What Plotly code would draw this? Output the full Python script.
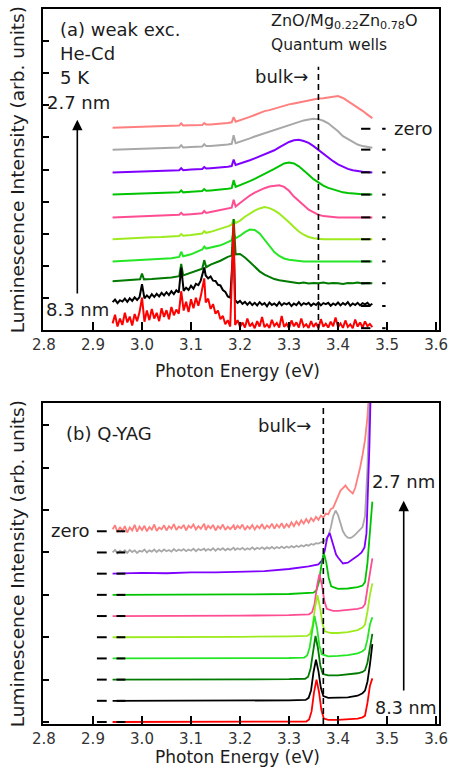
import plotly.graph_objects as go

# ---------------- sampling grids (photon energy, eV) ----------------
GRID_A = [2.94, 2.96, 2.98, 2.996, 3.00, 3.004, 3.02, 3.04, 3.06, 3.076,
          3.08, 3.084, 3.10, 3.123, 3.127, 3.131, 3.14, 3.16, 3.175, 3.183,
          3.187, 3.191, 3.20, 3.21, 3.22, 3.23, 3.24, 3.25, 3.26, 3.27,
          3.28, 3.29, 3.30, 3.31, 3.32, 3.33, 3.34, 3.35, 3.36, 3.37,
          3.38, 3.39, 3.40, 3.41, 3.42, 3.43, 3.44, 3.45, 3.46, 3.47]

NOISY_X = [2.940, 2.945, 2.950, 2.955, 2.960, 2.965, 2.970, 2.975, 2.980, 2.985,
           2.990, 2.995, 3.000, 3.005, 3.010, 3.015, 3.020, 3.025, 3.030, 3.035,
           3.040, 3.045, 3.050, 3.055, 3.060, 3.065, 3.070, 3.075, 3.080, 3.085,
           3.090, 3.095, 3.100, 3.105, 3.110, 3.115, 3.120, 3.127, 3.130, 3.135,
           3.140, 3.145, 3.150, 3.155, 3.160, 3.165, 3.170, 3.175, 3.180, 3.187,
           3.190, 3.195, 3.200, 3.205, 3.210, 3.215, 3.220, 3.225, 3.230, 3.235,
           3.240, 3.245, 3.250, 3.255, 3.260, 3.265, 3.270, 3.275, 3.280, 3.285,
           3.290, 3.295, 3.300, 3.305, 3.310, 3.315, 3.320, 3.325, 3.330, 3.335,
           3.340, 3.345, 3.350, 3.355, 3.360, 3.365, 3.370, 3.375, 3.380, 3.385,
           3.390, 3.395, 3.400, 3.405, 3.410, 3.415, 3.420, 3.425, 3.430, 3.435,
           3.440, 3.445, 3.450, 3.455, 3.460, 3.465, 3.470]

# zero level of each stacked spectrum, from the 2.7 nm well (top) to 8.3 nm (bottom)
ZERO_A = [6.27, 5.62, 4.91, 4.22, 3.51, 2.83, 2.14, 1.46, 0.75, 0.06]
ZERO_B = [4.5, 4.0, 3.5, 3.0, 2.5, 2.0, 1.5, 1.0, 0.5, 0.0]

COLORS = ["#FF7F7F", "#A8A8A8", "#7F00FF", "#00C400", "#FF4D94",
          "#9DEB1E", "#25E625", "#007A00", "#000000", "#FF0000"]

# ---------------- (a) weak excitation, He-Cd ----------------
SALMON_A = [0.03, 0.04, 0.05, 0.06, 0.06, 0.06, 0.07, 0.08, 0.09, 0.10,
            0.17, 0.10, 0.11, 0.12, 0.18, 0.13, 0.13, 0.15, 0.18, 0.20,
            0.36, 0.22, 0.26, 0.31, 0.37, 0.43, 0.49, 0.55, 0.58, 0.63,
            0.67, 0.71, 0.76, 0.79, 0.82, 0.86, 0.89, 0.92, 0.94, 0.95,
            0.97, 1.00, 1.02, 0.96, 0.86, 0.77, 0.68, 0.56, 0.44, 0.33]
GRAY_A = [0.00, 0.01, 0.02, 0.03, 0.03, 0.03, 0.04, 0.05, 0.06, 0.07,
          0.14, 0.07, 0.08, 0.10, 0.17, 0.11, 0.11, 0.13, 0.16, 0.18,
          0.45, 0.20, 0.24, 0.30, 0.35, 0.41, 0.46, 0.50, 0.55, 0.60,
          0.65, 0.71, 0.77, 0.82, 0.87, 0.91, 0.94, 0.96, 0.95, 0.90,
          0.82, 0.70, 0.57, 0.42, 0.33, 0.24, 0.16, 0.11, 0.08, 0.06]
PURPLE_A = [0.00, 0.01, 0.02, 0.03, 0.03, 0.03, 0.04, 0.05, 0.06, 0.07,
            0.13, 0.07, 0.09, 0.11, 0.17, 0.12, 0.13, 0.15, 0.18, 0.20,
            0.40, 0.23, 0.27, 0.32, 0.38, 0.44, 0.50, 0.56, 0.62, 0.69,
            0.78, 0.87, 0.95, 1.00, 1.02, 0.98, 0.92, 0.82, 0.70, 0.58,
            0.46, 0.35, 0.25, 0.17, 0.11, 0.07, 0.04, 0.02, 0.01, 0.00]
GREEN_A = [0.00, 0.01, 0.02, 0.03, 0.03, 0.03, 0.04, 0.05, 0.06, 0.07,
           0.13, 0.07, 0.09, 0.11, 0.17, 0.12, 0.13, 0.15, 0.18, 0.20,
           0.45, 0.24, 0.29, 0.35, 0.42, 0.49, 0.56, 0.64, 0.72, 0.80,
           0.89, 0.97, 1.00, 0.97, 0.88, 0.76, 0.62, 0.48, 0.37, 0.28,
           0.21, 0.16, 0.11, 0.07, 0.05, 0.03, 0.02, 0.01, 0.01, 0.00]
PINK_A = [0.00, 0.01, 0.02, 0.03, 0.03, 0.03, 0.04, 0.05, 0.07, 0.08,
          0.14, 0.08, 0.10, 0.13, 0.20, 0.14, 0.17, 0.22, 0.27, 0.30,
          0.55, 0.34, 0.45, 0.57, 0.68, 0.77, 0.85, 0.91, 0.96, 0.99,
          1.00, 0.95, 0.83, 0.65, 0.50, 0.38, 0.24, 0.15, 0.08, 0.04,
          0.02, 0.01, 0.00, 0.00, 0.00, 0.00, 0.00, 0.00, 0.00, 0.00]
LIME_A = [0.00, 0.02, 0.03, 0.04, 0.05, 0.05, 0.06, 0.07, 0.09, 0.10,
          0.16, 0.11, 0.13, 0.18, 0.25, 0.20, 0.23, 0.32, 0.40, 0.45,
          0.62, 0.50, 0.58, 0.70, 0.80, 0.89, 0.96, 1.00, 0.97, 0.90,
          0.80, 0.68, 0.53, 0.38, 0.24, 0.14, 0.07, 0.03, 0.01, 0.00,
          0.00, 0.00, 0.00, 0.00, 0.00, 0.00, 0.00, 0.00, 0.00, 0.00]
BGREEN_A = [0.00, 0.02, 0.04, 0.05, 0.05, 0.05, 0.07, 0.08, 0.10, 0.14,
            0.30, 0.16, 0.22, 0.37, 0.46, 0.40, 0.43, 0.50, 0.60, 0.66,
            0.90, 0.72, 0.80, 0.91, 0.99, 0.98, 0.87, 0.67, 0.46, 0.29,
            0.17, 0.09, 0.05, 0.03, 0.01, 0.00, 0.00, 0.00, 0.00, 0.00,
            0.00, 0.00, 0.00, 0.00, 0.00, 0.00, 0.00, 0.00, 0.00, 0.00]
DKGREEN_A = [0.06, 0.08, 0.10, 0.12, 0.30, 0.12, 0.13, 0.15, 0.18, 0.22,
             0.60, 0.24, 0.32, 0.45, 0.72, 0.50, 0.58, 0.70, 0.82, 0.86,
             2.00, 0.90, 0.91, 0.80, 0.66, 0.50, 0.37, 0.27, 0.19, 0.13,
             0.09, 0.06, 0.04, 0.02, 0.00, 0.02, -0.01, 0.01, 0.00, 0.02,
             -0.01, 0.01, 0.00, -0.02, 0.01, 0.00, 0.02, -0.01, 0.01, 0.00]
BLACK_A = [0.12, 0.20, 0.09, 0.18, 0.14, 0.23, 0.13, 0.24, 0.16, 0.27,
           0.19, 0.28, 0.68, 0.24, 0.33, 0.25, 0.37, 0.28, 0.38, 0.30,
           0.41, 0.33, 0.43, 0.34, 0.46, 0.37, 0.49, 0.42, 1.20, 0.47,
           0.57, 0.50, 0.63, 0.54, 0.69, 0.65, 0.80, 1.20, 0.95, 0.86,
           0.92, 0.79, 0.78, 0.66, 0.64, 0.50, 0.44, 0.30, 0.26, 2.00,
           0.18, 0.10, 0.16, 0.07, 0.13, 0.04, 0.12, 0.03, 0.10, 0.02,
           0.12, 0.04, 0.09, -0.01, 0.11, 0.03, 0.08, 0.01, 0.12, 0.02,
           0.09, 0.05, 0.10, 0.00, 0.08, 0.03, 0.12, 0.02, 0.09, 0.05,
           0.10, 0.01, 0.08, 0.03, 0.11, 0.02, 0.09, 0.06, 0.10, 0.01,
           0.08, 0.03, 0.11, 0.02, 0.09, 0.04, 0.12, 0.01, 0.08, 0.03,
           0.10, 0.02, 0.09, 0.05, 0.10, 0.02, 0.07]
RED_A = [0.15, 0.42, 0.05, 0.30, 0.10, 0.48, 0.18, 0.36, 0.08, 0.44,
         0.22, 0.50, 0.95, 0.20, 0.55, 0.25, 0.60, 0.30, 0.48, 0.22,
         0.62, 0.35, 0.56, 0.28, 0.66, 0.40, 0.58, 0.45, 1.15, 0.55,
         0.82, 0.50, 0.90, 0.62, 0.95, 0.70, 1.00, 1.55, 0.80, 0.92,
         0.60, 0.75, 0.45, 0.55, 0.28, 0.38, 0.12, 0.25, 0.05, 3.25,
         0.10, 0.25, 0.04, 0.18, 0.02, 0.30, 0.06, 0.15, 0.00, 0.22,
         0.05, 0.35, 0.03, 0.12, 0.01, 0.26, 0.07, 0.16, 0.02, 0.38,
         0.04, 0.14, 0.00, 0.24, 0.06, 0.18, 0.02, 0.30, 0.05, 0.12,
         0.01, 0.22, 0.04, 0.16, 0.00, 0.28, 0.05, 0.14, 0.02, 0.20,
         0.06, 0.33, 0.03, 0.15, 0.01, 0.24, 0.04, 0.12, 0.00, 0.27,
         0.05, 0.18, 0.02, 0.21, 0.06, 0.13, 0.03]

# ---------------- (b) Q-switched YAG ----------------
SALMON_B = [0.05, 0.14, -0.02, 0.10, 0.01, 0.12, -0.03, 0.09, 0.02, 0.15,
            -0.01, 0.11, 0.03, 0.13, 0.00, 0.10, 0.04, 0.16, 0.01, 0.09,
            0.05, 0.14, 0.02, 0.12, 0.06, 0.17, 0.03, 0.11, 0.07, 0.15,
            0.02, 0.13, 0.08, 0.16, 0.04, 0.12, 0.06, 0.18, 0.03, 0.13,
            0.07, 0.15, 0.02, 0.12, 0.06, 0.16, 0.03, 0.11, 0.05, 0.14,
            0.04, 0.13, 0.07, 0.16, 0.03, 0.12, 0.06, 0.15, 0.04, 0.13,
            0.07, 0.17, 0.05, 0.14, 0.08, 0.18, 0.06, 0.16, 0.09, 0.19,
            0.07, 0.17, 0.10, 0.21, 0.12, 0.23, 0.15, 0.26, 0.18, 0.29,
            0.20, 0.31, 0.24, 0.34, 0.27, 0.37, 0.32, 0.42, 0.40, 0.52,
            0.55, 0.68, 0.80, 0.96, 1.02, 1.08, 1.00, 0.94, 0.89, 1.02,
            1.25, 1.50, 1.80, 2.15, 2.70, 3.60, 4.50]
GRAY_B = [0.00, 0.06, -0.02, 0.04, 0.00, 0.05, -0.01, 0.06, 0.01, 0.05,
          -0.01, 0.04, 0.02, 0.07, 0.00, 0.05, 0.02, 0.07, 0.01, 0.06,
          0.02, 0.07, 0.03, 0.06, 0.02, 0.08, 0.03, 0.07, 0.04, 0.08,
          0.03, 0.07, 0.04, 0.09, 0.03, 0.08, 0.05, 0.09, 0.04, 0.08,
          0.05, 0.10, 0.04, 0.09, 0.06, 0.10, 0.05, 0.09, 0.06, 0.11,
          0.06, 0.10, 0.07, 0.11, 0.06, 0.10, 0.07, 0.12, 0.07, 0.11,
          0.08, 0.12, 0.08, 0.12, 0.09, 0.13, 0.09, 0.13, 0.10, 0.14,
          0.10, 0.14, 0.11, 0.15, 0.12, 0.16, 0.13, 0.17, 0.14, 0.18,
          0.16, 0.20, 0.18, 0.22, 0.21, 0.24, 0.25, 0.30, 0.38, 0.58,
          0.85, 0.99, 0.88, 0.68, 0.50, 0.40, 0.35, 0.34, 0.37, 0.42,
          0.48, 0.54, 0.60, 0.85, 2.00, 4.00, 5.00]
PURPLE_B_X = [2.94, 3.00, 3.05, 3.10, 3.15, 3.20, 3.25, 3.30, 3.34, 3.36,
              3.368, 3.373, 3.378, 3.383, 3.388, 3.392, 3.396, 3.40, 3.41, 3.42,
              3.43, 3.44, 3.448, 3.454, 3.458, 3.461, 3.464, 3.467]
PURPLE_B_Y = [0.00, 0.02, 0.01, 0.03, 0.03, 0.05, 0.06, 0.11, 0.17, 0.22,
              0.32, 0.55, 0.85, 0.96, 0.78, 0.58, 0.45, 0.38, 0.24, 0.26,
              0.33, 0.42, 0.50, 0.62, 0.95, 1.80, 3.00, 4.50]
GREEN_B_X = [2.94, 3.10, 3.20, 3.30, 3.350, 3.356, 3.361, 3.366, 3.371, 3.376,
             3.381, 3.386, 3.40, 3.42, 3.44, 3.45, 3.455, 3.46, 3.465, 3.47]
GREEN_B_Y = [0.00, 0.00, 0.01, 0.02, 0.05, 0.11, 0.30, 0.70, 0.99, 0.76,
             0.40, 0.20, 0.14, 0.15, 0.18, 0.22, 0.30, 0.75, 1.50, 2.20]
PINK_B_X = [2.94, 3.10, 3.20, 3.30, 3.341, 3.347, 3.352, 3.357, 3.362, 3.367,
            3.372, 3.377, 3.39, 3.40, 3.42, 3.44, 3.45, 3.455, 3.46, 3.465, 3.47]
PINK_B_Y = [0.00, 0.00, 0.01, 0.02, 0.04, 0.09, 0.28, 0.70, 0.99, 0.74,
            0.36, 0.17, 0.12, 0.12, 0.14, 0.17, 0.20, 0.28, 0.65, 1.05, 1.36]
LIME_B_X = [2.94, 3.10, 3.20, 3.30, 3.337, 3.343, 3.348, 3.353, 3.358, 3.363,
            3.368, 3.373, 3.385, 3.40, 3.42, 3.44, 3.45, 3.455, 3.46, 3.465, 3.47]
LIME_B_Y = [0.00, 0.00, 0.01, 0.02, 0.03, 0.08, 0.27, 0.70, 0.99, 0.72,
            0.33, 0.14, 0.10, 0.10, 0.12, 0.17, 0.23, 0.30, 0.60, 1.00, 1.27]
BGREEN_B_X = [2.94, 3.10, 3.20, 3.30, 3.331, 3.337, 3.342, 3.347, 3.352, 3.357,
              3.362, 3.367, 3.38, 3.40, 3.42, 3.44, 3.45, 3.455, 3.46, 3.465, 3.47]
BGREEN_B_Y = [0.00, 0.00, 0.00, 0.01, 0.02, 0.07, 0.25, 0.68, 1.00, 0.72,
              0.30, 0.10, 0.05, 0.06, 0.08, 0.12, 0.17, 0.22, 0.45, 0.80, 0.97]
DKGREEN_B_X = [2.94, 3.10, 3.20, 3.30, 3.333, 3.339, 3.344, 3.349, 3.354, 3.359,
               3.364, 3.369, 3.38, 3.40, 3.42, 3.44, 3.45, 3.455, 3.46, 3.465, 3.47]
DKGREEN_B_Y = [0.00, 0.00, 0.00, 0.01, 0.02, 0.07, 0.26, 0.70, 1.03, 0.74,
               0.32, 0.13, 0.10, 0.10, 0.12, 0.15, 0.18, 0.22, 0.40, 0.75, 1.08]
BLACK_B_X = [2.94, 3.10, 3.20, 3.30, 3.334, 3.340, 3.345, 3.350, 3.355, 3.360,
             3.365, 3.370, 3.38, 3.40, 3.42, 3.44, 3.45, 3.455, 3.46, 3.465, 3.47]
BLACK_B_Y = [0.00, 0.00, 0.00, 0.01, 0.02, 0.07, 0.25, 0.68, 0.97, 0.70,
             0.30, 0.11, 0.07, 0.07, 0.08, 0.12, 0.18, 0.24, 0.45, 0.85, 1.34]
RED_B_X = [2.94, 3.10, 3.20, 3.30, 3.335, 3.341, 3.346, 3.351, 3.356, 3.361,
           3.366, 3.371, 3.38, 3.40, 3.42, 3.44, 3.45, 3.455, 3.46, 3.465, 3.47]
RED_B_Y = [0.00, 0.00, 0.00, 0.00, 0.01, 0.06, 0.25, 0.70, 1.00, 0.72,
           0.28, 0.08, 0.05, 0.05, 0.06, 0.08, 0.11, 0.15, 0.45, 0.85, 1.03]

BULK_A = 3.36
BULK_B = 3.37
X_TICKS = [2.8, 2.9, 3.0, 3.1, 3.2, 3.3, 3.4, 3.5, 3.6]

SPEC_A = [(GRID_A, SALMON_A), (GRID_A, GRAY_A), (GRID_A, PURPLE_A), (GRID_A, GREEN_A),
          (GRID_A, PINK_A), (GRID_A, LIME_A), (GRID_A, BGREEN_A), (GRID_A, DKGREEN_A),
          (NOISY_X, BLACK_A), (NOISY_X, RED_A)]
SPEC_B = [(NOISY_X, SALMON_B), (NOISY_X, GRAY_B), (PURPLE_B_X, PURPLE_B_Y),
          (GREEN_B_X, GREEN_B_Y), (PINK_B_X, PINK_B_Y), (LIME_B_X, LIME_B_Y),
          (BGREEN_B_X, BGREEN_B_Y), (DKGREEN_B_X, DKGREEN_B_Y),
          (BLACK_B_X, BLACK_B_Y), (RED_B_X, RED_B_Y)]

FONT = "DejaVu Sans"
INK = "#1c1c1c"

fig = go.Figure()


def add_stack(spectra, zeros, xa, ya, width):
    for (xs, ys), z, c in zip(spectra, zeros, COLORS):
        fig.add_trace(go.Scatter(
            x=xs, y=[z + v for v in ys], mode="lines",
            line=dict(color=c, width=width),
            xaxis=xa, yaxis=ya, hoverinfo="skip", showlegend=False))


def add_zero_marks(zeros, segments, xa, ya):
    xs, ys = [], []
    for z in zeros:
        for x0, x1 in segments:
            xs += [x0, x1, None]
            ys += [z, z, None]
    fig.add_trace(go.Scatter(
        x=xs, y=ys, mode="lines", line=dict(color="black", width=2),
        xaxis=xa, yaxis=ya, hoverinfo="skip", showlegend=False))


add_stack(SPEC_A, ZERO_A, "x", "y", 2)
add_stack(SPEC_B, ZERO_B, "x2", "y2", 1.8)

# zero-level markers for each spectrum
add_zero_marks(ZERO_A, [(3.447, 3.466), (3.490, 3.497)], "x", "y")
add_zero_marks(ZERO_B, [(2.908, 2.928), (2.948, 2.966)], "x2", "y2")

# bulk ZnO emission energy
fig.add_trace(go.Scatter(x=[BULK_A, BULK_A], y=[0, 8.2], mode="lines",
                         line=dict(color="black", width=1.6, dash="6px,4px"),
                         xaxis="x", yaxis="y", hoverinfo="skip", showlegend=False))
fig.add_trace(go.Scatter(x=[BULK_B, BULK_B], y=[-0.05, 7.41], mode="lines",
                         line=dict(color="black", width=1.6, dash="6px,4px"),
                         xaxis="x2", yaxis="y2", hoverinfo="skip", showlegend=False))

axis_common = dict(showline=True, mirror=True, linecolor="black", linewidth=1.6,
                   showgrid=False, zeroline=False, ticks="inside",
                   tickcolor="black", tickwidth=1.5)

xa = dict(axis_common, range=[2.798, 3.606], tickvals=X_TICKS,
          ticktext=["%.1f" % t for t in X_TICKS], ticklen=8,
          tickfont=dict(family=FONT, size=15, color="#333333"))

fig.update_layout(
    width=455, height=775,
    margin=dict(l=43, r=9, t=7, b=51),
    paper_bgcolor="white", plot_bgcolor="white",
    showlegend=False,
    xaxis=dict(xa, anchor="y", domain=[0, 1]),
    yaxis=dict(axis_common, anchor="x", domain=[0.5509, 1.0], range=[0, 10],
               tick0=0, dtick=1, ticklen=6, showticklabels=False),
    xaxis2=dict(xa, anchor="y2", domain=[0, 1]),
    yaxis2=dict(axis_common, anchor="x2", domain=[0, 0.4491], range=[-0.047, 7.529],
                tick0=0, dtick=1, ticklen=6, showticklabels=False),
)


def label(text, x, y, xref, yref, size=18, xanchor="left", **kw):
    fig.add_annotation(text=text, x=x, y=y, xref=xref, yref=yref, showarrow=False,
                       xanchor=xanchor, yanchor="middle",
                       font=dict(family=FONT, size=size, color=INK), **kw)


# panel (a) labels
label("(a) weak exc.", 2.829, 9.35, "x", "y")
label("He-Cd", 2.829, 8.60, "x", "y")
label("5 K", 2.829, 7.86, "x", "y")
label("2.7 nm", 2.802, 7.08, "x", "y")
label("8.3 nm", 2.800, 0.65, "x", "y")
label("ZnO/Mg<sub>0.22</sub>Zn<sub>0.78</sub>O", 3.260, 9.62, "x", "y", size=16)
label("Quantum wells", 3.260, 8.88, "x", "y", size=15.5)
label("bulk→", 3.227, 7.89, "x", "y")
label("zero", 3.510, 6.27, "x", "y")

# panel (b) labels
label("(b) Q-YAG", 2.841, 6.80, "x2", "y2")
label("bulk→", 3.233, 6.99, "x2", "y2")
label("2.7 nm", 3.466, 5.67, "x2", "y2")
label("8.3 nm", 3.472, 0.33, "x2", "y2", size=17.5)
label("zero", 2.897, 4.52, "x2", "y2", xanchor="right")

# well-width arrows (8.3 nm at the bottom, 2.7 nm at the top)
fig.add_annotation(x=2.868, y=6.55, ax=2.868, ay=1.09, xref="x", yref="y",
                   axref="x", ayref="y", showarrow=True, text="",
                   arrowhead=2, arrowsize=1.3, arrowwidth=1.6, arrowcolor="black")
fig.add_annotation(x=3.534, y=5.22, ax=3.534, ay=0.71, xref="x2", yref="y2",
                   axref="x2", ayref="y2", showarrow=True, text="",
                   arrowhead=2, arrowsize=1.3, arrowwidth=1.6, arrowcolor="black")

# axis titles
for ytitle in (0.7755, 0.2245):
    fig.add_annotation(text="Luminescence Intensity (arb. units)", x=-0.064, y=ytitle,
                       xref="paper", yref="paper", showarrow=False, textangle=-90,
                       xanchor="center", yanchor="middle",
                       font=dict(family=FONT, size=18.5, color=INK))
for xtitle_y in (0.4937, -0.046):
    fig.add_annotation(text="Photon Energy (eV)", x=0.491, y=xtitle_y,
                       xref="paper", yref="paper", showarrow=False,
                       xanchor="center", yanchor="middle",
                       font=dict(family=FONT, size=17, color=INK))

fig.write_html("out.html")
